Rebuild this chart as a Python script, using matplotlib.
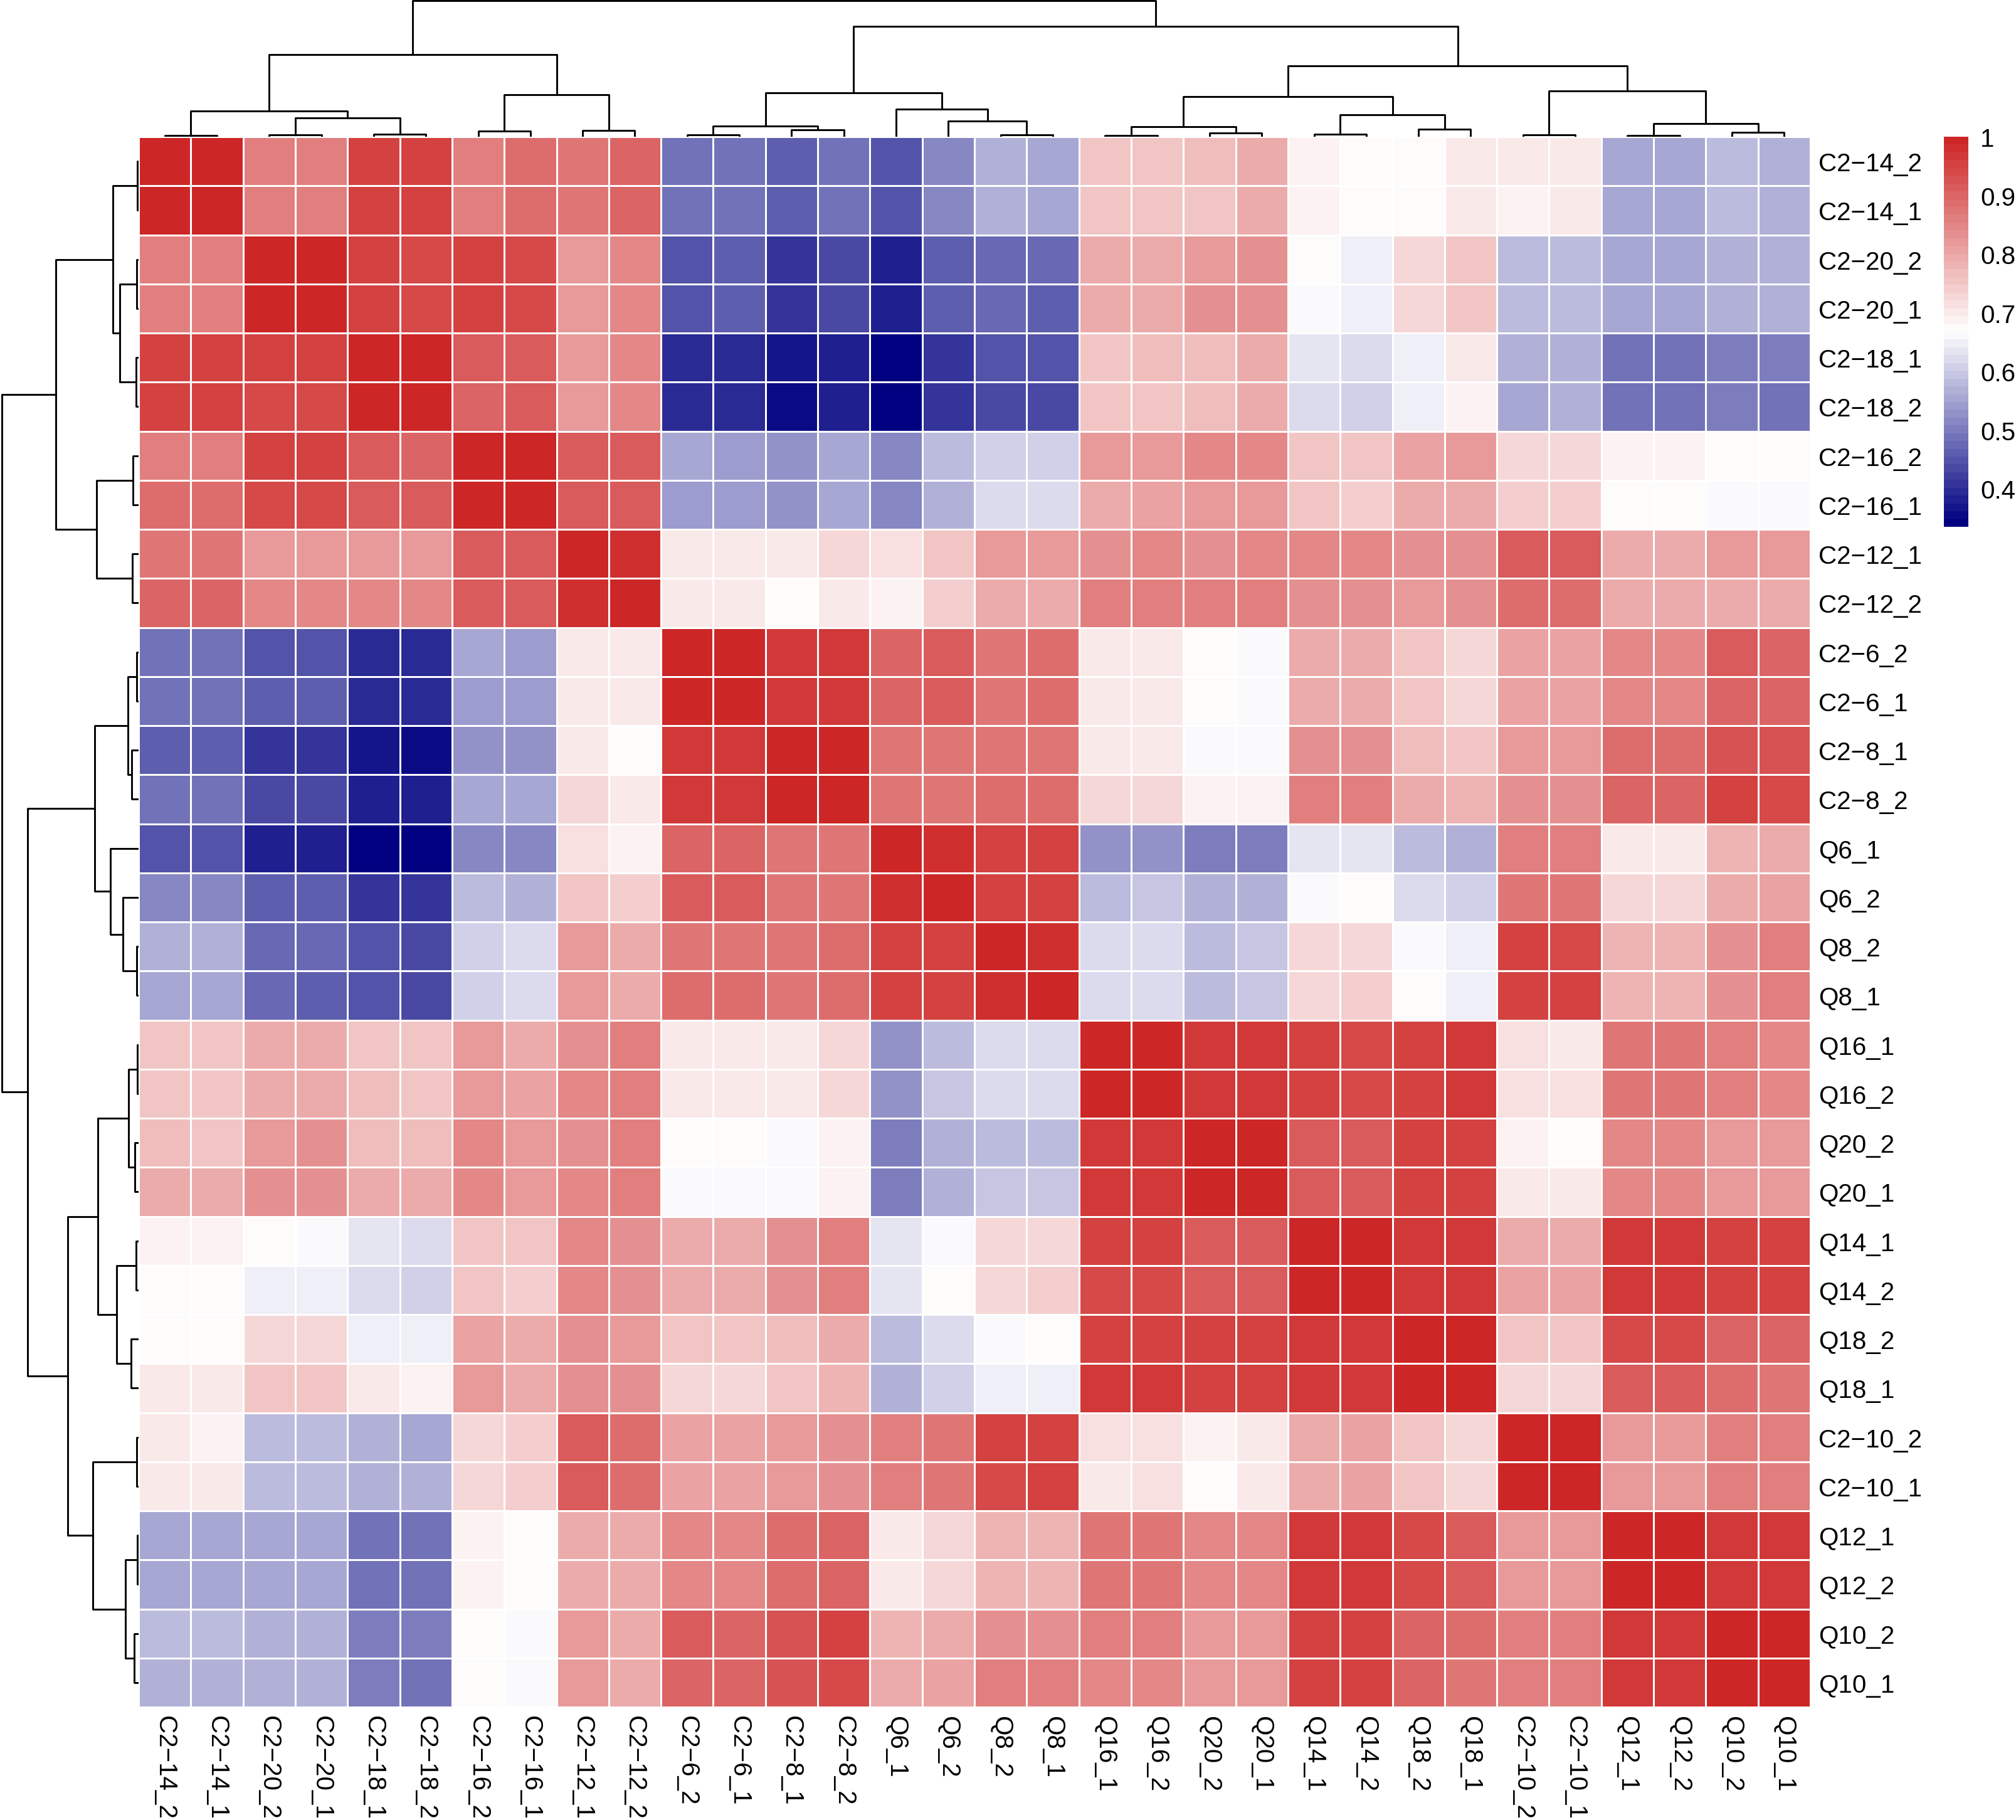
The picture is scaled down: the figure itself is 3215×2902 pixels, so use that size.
import numpy as np
import matplotlib
matplotlib.use('Agg')
import matplotlib.pyplot as plt
from matplotlib.colors import LinearSegmentedColormap

plt.rcParams['font.family'] = ['Liberation Sans', 'DejaVu Sans']

# sample order after clustering (rows and columns are the same)
labels = ['C2-14_2', 'C2-14_1', 'C2-20_2', 'C2-20_1', 'C2-18_1', 'C2-18_2',
          'C2-16_2', 'C2-16_1', 'C2-12_1', 'C2-12_2', 'C2-6_2', 'C2-6_1',
          'C2-8_1', 'C2-8_2', 'Q6_1', 'Q6_2', 'Q8_2', 'Q8_1', 'Q16_1', 'Q16_2',
          'Q20_2', 'Q20_1', 'Q14_1', 'Q14_2', 'Q18_2', 'Q18_1', 'C2-10_2',
          'C2-10_1', 'Q12_1', 'Q12_2', 'Q10_2', 'Q10_1']

corr = [
    [1.00, 0.99, 0.86, 0.86, 0.95, 0.95, 0.86, 0.885, 0.878, 0.90, 0.485, 0.49, 0.46, 0.486, 0.45, 0.512, 0.567, 0.56, 0.76, 0.75, 0.762, 0.79, 0.683, 0.678, 0.668, 0.703, 0.695, 0.705, 0.56, 0.56, 0.583, 0.567],
    [0.99, 1.00, 0.86, 0.86, 0.952, 0.95, 0.86, 0.89, 0.878, 0.895, 0.485, 0.49, 0.46, 0.486, 0.45, 0.512, 0.565, 0.56, 0.76, 0.75, 0.76, 0.79, 0.686, 0.68, 0.668, 0.703, 0.693, 0.705, 0.56, 0.56, 0.583, 0.567],
    [0.86, 0.86, 1.00, 0.99, 0.952, 0.945, 0.952, 0.945, 0.822, 0.848, 0.452, 0.455, 0.41, 0.436, 0.382, 0.456, 0.476, 0.474, 0.788, 0.795, 0.825, 0.835, 0.668, 0.654, 0.725, 0.757, 0.585, 0.583, 0.56, 0.56, 0.567, 0.565],
    [0.86, 0.86, 0.99, 1.00, 0.952, 0.945, 0.952, 0.945, 0.822, 0.848, 0.452, 0.455, 0.408, 0.433, 0.38, 0.455, 0.47, 0.467, 0.795, 0.795, 0.83, 0.835, 0.665, 0.652, 0.727, 0.757, 0.583, 0.577, 0.556, 0.556, 0.565, 0.562],
    [0.95, 0.952, 0.952, 0.952, 1.00, 0.99, 0.908, 0.915, 0.82, 0.845, 0.40, 0.40, 0.363, 0.383, 0.343, 0.412, 0.445, 0.443, 0.757, 0.765, 0.768, 0.79, 0.63, 0.618, 0.652, 0.70, 0.567, 0.573, 0.49, 0.49, 0.505, 0.495],
    [0.95, 0.95, 0.945, 0.945, 0.99, 1.00, 0.905, 0.912, 0.82, 0.845, 0.39, 0.39, 0.355, 0.38, 0.335, 0.404, 0.435, 0.432, 0.757, 0.76, 0.765, 0.79, 0.62, 0.609, 0.643, 0.69, 0.56, 0.565, 0.483, 0.483, 0.50, 0.486],
    [0.86, 0.86, 0.952, 0.952, 0.908, 0.905, 1.00, 0.99, 0.917, 0.917, 0.549, 0.547, 0.533, 0.56, 0.517, 0.578, 0.614, 0.614, 0.822, 0.822, 0.848, 0.848, 0.757, 0.755, 0.81, 0.822, 0.725, 0.722, 0.683, 0.685, 0.668, 0.668],
    [0.885, 0.89, 0.945, 0.945, 0.915, 0.912, 0.99, 1.00, 0.917, 0.917, 0.54, 0.538, 0.53, 0.556, 0.514, 0.572, 0.62, 0.62, 0.80, 0.805, 0.822, 0.825, 0.748, 0.745, 0.79, 0.80, 0.745, 0.742, 0.668, 0.668, 0.662, 0.662],
    [0.878, 0.878, 0.822, 0.822, 0.82, 0.82, 0.917, 0.917, 1.00, 0.985, 0.706, 0.706, 0.706, 0.727, 0.708, 0.757, 0.82, 0.82, 0.835, 0.845, 0.83, 0.845, 0.845, 0.845, 0.83, 0.84, 0.917, 0.917, 0.80, 0.80, 0.815, 0.815],
    [0.90, 0.895, 0.848, 0.848, 0.845, 0.845, 0.917, 0.917, 0.985, 1.00, 0.70, 0.703, 0.678, 0.705, 0.69, 0.745, 0.80, 0.80, 0.862, 0.862, 0.86, 0.862, 0.83, 0.83, 0.825, 0.835, 0.888, 0.888, 0.79, 0.79, 0.80, 0.795],
    [0.485, 0.485, 0.452, 0.452, 0.40, 0.39, 0.549, 0.54, 0.706, 0.70, 1.00, 0.99, 0.967, 0.966, 0.90, 0.91, 0.877, 0.888, 0.703, 0.703, 0.67, 0.667, 0.80, 0.80, 0.748, 0.733, 0.81, 0.805, 0.848, 0.848, 0.908, 0.905],
    [0.49, 0.49, 0.455, 0.455, 0.40, 0.39, 0.547, 0.538, 0.706, 0.703, 0.99, 1.00, 0.965, 0.965, 0.90, 0.91, 0.877, 0.885, 0.705, 0.705, 0.668, 0.667, 0.80, 0.80, 0.748, 0.733, 0.808, 0.805, 0.848, 0.848, 0.905, 0.90],
    [0.46, 0.46, 0.41, 0.408, 0.363, 0.355, 0.533, 0.53, 0.706, 0.678, 0.967, 0.965, 1.00, 0.99, 0.875, 0.875, 0.88, 0.88, 0.70, 0.70, 0.662, 0.662, 0.832, 0.837, 0.768, 0.75, 0.82, 0.82, 0.885, 0.885, 0.93, 0.93],
    [0.486, 0.486, 0.436, 0.433, 0.383, 0.38, 0.56, 0.556, 0.727, 0.705, 0.966, 0.965, 0.99, 1.00, 0.875, 0.875, 0.885, 0.888, 0.727, 0.727, 0.69, 0.69, 0.857, 0.857, 0.80, 0.78, 0.832, 0.832, 0.905, 0.905, 0.95, 0.945],
    [0.45, 0.45, 0.382, 0.38, 0.343, 0.335, 0.517, 0.514, 0.708, 0.69, 0.90, 0.90, 0.875, 0.875, 1.00, 0.98, 0.96, 0.96, 0.528, 0.53, 0.50, 0.50, 0.632, 0.64, 0.58, 0.562, 0.86, 0.857, 0.706, 0.706, 0.78, 0.788],
    [0.512, 0.512, 0.456, 0.455, 0.412, 0.404, 0.578, 0.572, 0.757, 0.745, 0.91, 0.91, 0.875, 0.875, 0.98, 1.00, 0.96, 0.96, 0.585, 0.592, 0.565, 0.565, 0.667, 0.672, 0.62, 0.61, 0.875, 0.875, 0.722, 0.722, 0.80, 0.807],
    [0.567, 0.565, 0.476, 0.47, 0.445, 0.435, 0.614, 0.62, 0.82, 0.80, 0.877, 0.877, 0.88, 0.885, 0.96, 0.96, 1.00, 0.985, 0.617, 0.622, 0.583, 0.588, 0.725, 0.733, 0.667, 0.643, 0.947, 0.94, 0.785, 0.785, 0.828, 0.857],
    [0.56, 0.56, 0.474, 0.467, 0.443, 0.432, 0.614, 0.62, 0.82, 0.80, 0.888, 0.885, 0.88, 0.888, 0.96, 0.96, 0.985, 1.00, 0.617, 0.622, 0.583, 0.59, 0.733, 0.74, 0.672, 0.652, 0.947, 0.947, 0.785, 0.785, 0.84, 0.855],
    [0.76, 0.76, 0.788, 0.795, 0.757, 0.757, 0.822, 0.80, 0.835, 0.862, 0.703, 0.705, 0.70, 0.727, 0.528, 0.585, 0.617, 0.617, 1.00, 0.99, 0.97, 0.97, 0.95, 0.945, 0.957, 0.97, 0.708, 0.703, 0.878, 0.875, 0.855, 0.845],
    [0.75, 0.75, 0.795, 0.795, 0.765, 0.76, 0.822, 0.805, 0.845, 0.862, 0.703, 0.705, 0.70, 0.727, 0.53, 0.592, 0.622, 0.622, 0.99, 1.00, 0.97, 0.97, 0.95, 0.945, 0.957, 0.97, 0.712, 0.715, 0.878, 0.875, 0.855, 0.845],
    [0.762, 0.76, 0.825, 0.83, 0.768, 0.765, 0.848, 0.822, 0.83, 0.86, 0.67, 0.668, 0.662, 0.69, 0.50, 0.565, 0.583, 0.583, 0.97, 0.97, 1.00, 0.99, 0.917, 0.908, 0.947, 0.957, 0.683, 0.677, 0.845, 0.845, 0.825, 0.815],
    [0.79, 0.79, 0.835, 0.835, 0.79, 0.79, 0.848, 0.825, 0.845, 0.862, 0.667, 0.667, 0.662, 0.69, 0.50, 0.565, 0.588, 0.59, 0.97, 0.97, 0.99, 1.00, 0.917, 0.908, 0.947, 0.957, 0.695, 0.695, 0.845, 0.845, 0.825, 0.815],
    [0.683, 0.686, 0.668, 0.665, 0.63, 0.62, 0.757, 0.748, 0.845, 0.83, 0.80, 0.80, 0.832, 0.857, 0.632, 0.667, 0.725, 0.733, 0.95, 0.95, 0.917, 0.917, 1.00, 0.99, 0.97, 0.967, 0.80, 0.80, 0.967, 0.967, 0.952, 0.947],
    [0.678, 0.68, 0.654, 0.652, 0.618, 0.609, 0.755, 0.745, 0.845, 0.83, 0.80, 0.80, 0.837, 0.857, 0.64, 0.672, 0.733, 0.74, 0.945, 0.945, 0.908, 0.908, 0.99, 1.00, 0.97, 0.967, 0.805, 0.805, 0.967, 0.967, 0.952, 0.947],
    [0.668, 0.668, 0.725, 0.727, 0.652, 0.643, 0.81, 0.79, 0.83, 0.825, 0.748, 0.748, 0.768, 0.80, 0.58, 0.62, 0.667, 0.672, 0.957, 0.957, 0.947, 0.947, 0.97, 0.97, 1.00, 0.99, 0.755, 0.748, 0.935, 0.935, 0.90, 0.90],
    [0.703, 0.703, 0.757, 0.757, 0.70, 0.69, 0.822, 0.80, 0.84, 0.835, 0.733, 0.733, 0.75, 0.78, 0.562, 0.61, 0.643, 0.652, 0.97, 0.97, 0.957, 0.957, 0.967, 0.967, 0.99, 1.00, 0.73, 0.727, 0.915, 0.915, 0.885, 0.878],
    [0.695, 0.693, 0.585, 0.583, 0.567, 0.56, 0.725, 0.745, 0.917, 0.888, 0.81, 0.808, 0.82, 0.832, 0.86, 0.875, 0.947, 0.947, 0.708, 0.712, 0.683, 0.695, 0.80, 0.805, 0.755, 0.73, 1.00, 0.99, 0.818, 0.818, 0.86, 0.86],
    [0.705, 0.705, 0.583, 0.577, 0.573, 0.565, 0.722, 0.742, 0.917, 0.888, 0.805, 0.805, 0.82, 0.832, 0.857, 0.875, 0.94, 0.947, 0.703, 0.715, 0.677, 0.695, 0.80, 0.805, 0.748, 0.727, 0.99, 1.00, 0.818, 0.818, 0.855, 0.857],
    [0.56, 0.56, 0.56, 0.556, 0.49, 0.483, 0.683, 0.668, 0.80, 0.79, 0.848, 0.848, 0.885, 0.905, 0.706, 0.722, 0.785, 0.785, 0.878, 0.878, 0.845, 0.845, 0.967, 0.967, 0.935, 0.915, 0.818, 0.818, 1.00, 0.99, 0.967, 0.967],
    [0.56, 0.56, 0.56, 0.556, 0.49, 0.483, 0.685, 0.668, 0.80, 0.79, 0.848, 0.848, 0.885, 0.905, 0.706, 0.722, 0.785, 0.785, 0.875, 0.875, 0.845, 0.845, 0.967, 0.967, 0.935, 0.915, 0.818, 0.818, 0.99, 1.00, 0.967, 0.967],
    [0.583, 0.583, 0.567, 0.565, 0.505, 0.50, 0.668, 0.662, 0.815, 0.80, 0.908, 0.905, 0.93, 0.95, 0.78, 0.80, 0.828, 0.84, 0.855, 0.855, 0.825, 0.825, 0.952, 0.952, 0.90, 0.885, 0.86, 0.855, 0.967, 0.967, 1.00, 0.99],
    [0.567, 0.567, 0.565, 0.562, 0.495, 0.486, 0.668, 0.662, 0.815, 0.795, 0.905, 0.90, 0.93, 0.945, 0.788, 0.807, 0.857, 0.855, 0.845, 0.845, 0.815, 0.815, 0.947, 0.947, 0.90, 0.878, 0.86, 0.857, 0.967, 0.967, 0.99, 1.00],
]

# merges of the tree: (node a, node b, height); leaves are 0..31, new nodes 32..
merges = [
    (0, 1, 0.004), (2, 3, 0.008), (4, 5, 0.013), (33, 34, 0.131), (32, 35, 0.185),
    (6, 7, 0.034), (8, 9, 0.042), (37, 38, 0.303), (36, 39, 0.600),
    (10, 11, 0.008), (12, 13, 0.046), (41, 42, 0.074), (16, 17, 0.008),
    (15, 44, 0.108), (14, 45, 0.200), (43, 46, 0.318),
    (18, 19, 0.005), (20, 21, 0.023), (48, 49, 0.066), (22, 23, 0.012),
    (24, 25, 0.050), (51, 52, 0.154), (50, 53, 0.292),
    (26, 27, 0.010), (28, 29, 0.004), (30, 31, 0.025), (56, 57, 0.092),
    (55, 58, 0.331), (54, 59, 0.515), (47, 60, 0.808), (40, 61, 1.000),
]

colorbar_ticks = [0.4, 0.5, 0.6, 0.7, 0.8, 0.9, 1.0]
colorbar_labels = ['0.4', '0.5', '0.6', '0.7', '0.8', '0.9', '1']

corr = np.array(corr)
n = len(labels)
shown = [s.replace('-', '\u2212') for s in labels]

W, H = 3215, 2903
fig = plt.figure(figsize=(W / 300, H / 300), dpi=300)


def box(x0, y0, x1, y1):
    return [x0 / W, 1 - y1 / H, (x1 - x0) / W, (y1 - y0) / H]


def tree_lines(merges, n):
    pos = {i: i + 0.5 for i in range(n)}
    hgt = {i: 0.0 for i in range(n)}
    lines = []
    for k, (a, b, h) in enumerate(merges):
        lines.append(([pos[a], pos[a], pos[b], pos[b]], [hgt[a], h, h, hgt[b]]))
        pos[n + k] = (pos[a] + pos[b]) / 2
        hgt[n + k] = h
    return lines


cmap = LinearSegmentedColormap.from_list('nwf', ['#000080', '#FFFFFF', '#CD2626'], N=50)

ax = fig.add_axes(box(221, 219, 2887, 2723))
mesh = ax.pcolormesh(np.arange(n + 1), np.arange(n + 1), corr, cmap=cmap,
                     vmin=corr.min(), vmax=corr.max(),
                     edgecolors='white', linewidth=0.6)
ax.set_xlim(0, n)
ax.set_ylim(n, 0)
for s in ax.spines.values():
    s.set_visible(False)
ax.set_xticks(np.arange(n) + 0.5)
ax.set_xticklabels(shown, rotation=270, fontsize=9.7)
ax.yaxis.tick_right()
ax.set_yticks(np.arange(n) + 0.5)
ax.set_yticklabels(shown, fontsize=9.7)
ax.tick_params(axis='x', length=0, pad=3.2)
ax.tick_params(axis='y', length=0, pad=3.1)

# column tree
axt = fig.add_axes(box(221, 0, 2887, 219))
for xs, ys in tree_lines(merges, n):
    axt.plot(xs, ys, color='black', lw=0.7)
axt.set_xlim(0, n)
axt.set_ylim(-0.006, 1.008)
axt.axis('off')

# row tree
axl = fig.add_axes(box(0, 219, 221, 2723))
for xs, ys in tree_lines(merges, n):
    axl.plot(ys, xs, color='black', lw=0.7)
axl.set_ylim(n, 0)
axl.set_xlim(1.012, -0.006)
axl.axis('off')

# legend
cax = fig.add_axes(box(3100, 219, 3139, 841))
cb = fig.colorbar(mesh, cax=cax, ticks=colorbar_ticks)
cb.ax.set_yticklabels(colorbar_labels)
cb.outline.set_visible(False)
cax.tick_params(length=0, pad=4.6, labelsize=9.7)

fig.savefig('out.png', dpi=300)
